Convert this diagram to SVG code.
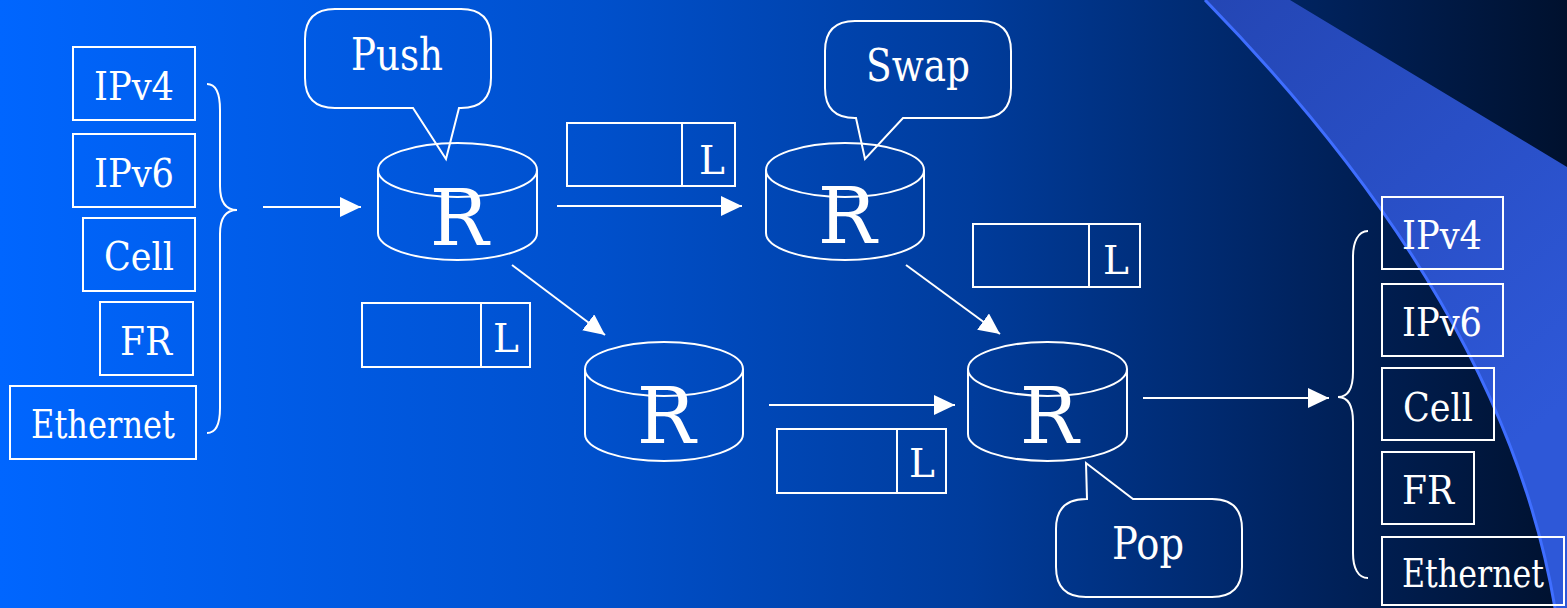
<svg xmlns="http://www.w3.org/2000/svg" width="1567" height="608" viewBox="0 0 1567 608">
<defs>
<linearGradient id="bg" x1="0" y1="0" x2="1567" y2="0" gradientUnits="userSpaceOnUse">
<stop offset="0" stop-color="#0066FF"/>
<stop offset="0.38" stop-color="#0050CC"/>
<stop offset="0.62" stop-color="#003C9C"/>
<stop offset="0.83" stop-color="#00235F"/>
<stop offset="1" stop-color="#00112E"/>
</linearGradient>
<linearGradient id="wedge" x1="1205" y1="0" x2="1567" y2="400" gradientUnits="userSpaceOnUse">
<stop offset="0" stop-color="#2446B4"/>
<stop offset="1" stop-color="#2E58D8"/>
</linearGradient>
<marker id="arr" viewBox="0 0 21 20" refX="21" refY="10" markerWidth="21" markerHeight="20" markerUnits="userSpaceOnUse" orient="auto">
<path d="M0,0 L21,10 L0,20 Z" fill="#FFFFFF"/>
</marker>
<style>
.ln{fill:none;stroke:#FFFFFF;stroke-width:2}
.box{fill:none;stroke:#FFFFFF;stroke-width:2}
.t{font-family:"DejaVu Serif","Liberation Serif","Times New Roman",serif;fill:#FFFFFF;text-anchor:middle}
.lbl{font-size:39px}
.co{font-size:44px}
.r{font-size:78px}
</style>
</defs>
<rect x="0" y="0" width="1567" height="608" fill="url(#bg)"/>
<path d="M1290,0 L1567,167 L1567,608 L1555,608 C1520,400 1400,200 1205,0 Z" fill="url(#wedge)"/>
<path d="M1205,0 C1400,200 1520,400 1555,608" fill="none" stroke="#3F6EFF" stroke-width="3"/>

<g id="left-stack">
<g id="l-ipv4"><rect class="box" x="73" y="47" width="122" height="73"/><text class="t lbl" x="134" y="100" textLength="80" lengthAdjust="spacingAndGlyphs">IPv4</text></g>
<g id="l-ipv6"><rect class="box" x="73" y="134" width="122" height="73"/><text class="t lbl" x="134" y="187" textLength="80" lengthAdjust="spacingAndGlyphs">IPv6</text></g>
<g id="l-cell"><rect class="box" x="83" y="218" width="112" height="73"/><text class="t lbl" x="139" y="270" textLength="70" lengthAdjust="spacingAndGlyphs">Cell</text></g>
<g id="l-fr"><rect class="box" x="100" y="302" width="93" height="73"/><text class="t lbl" x="146" y="355" textLength="52" lengthAdjust="spacingAndGlyphs">FR</text></g>
<g id="l-eth"><rect class="box" x="10" y="386" width="186" height="73"/><text class="t lbl" x="103" y="438" textLength="144" lengthAdjust="spacingAndGlyphs">Ethernet</text></g>
<path id="l-brace" class="ln" d="M207,84 C217,84 220,95 220,110 L220,186 C220,201 225,210 237,210 C225,210 220,219 220,234 L220,408 C220,423 217,433 207,433"/>
</g>

<g id="right-stack">
<g id="r-ipv4"><rect class="box" x="1382" y="197" width="121" height="72"/><text class="t lbl" x="1442" y="249" textLength="80" lengthAdjust="spacingAndGlyphs">IPv4</text></g>
<g id="r-ipv6"><rect class="box" x="1382" y="284" width="121" height="72"/><text class="t lbl" x="1442" y="336" textLength="80" lengthAdjust="spacingAndGlyphs">IPv6</text></g>
<g id="r-cell"><rect class="box" x="1382" y="368" width="112" height="72"/><text class="t lbl" x="1438" y="421" textLength="70" lengthAdjust="spacingAndGlyphs">Cell</text></g>
<g id="r-fr"><rect class="box" x="1382" y="452" width="92" height="72"/><text class="t lbl" x="1428" y="504" textLength="52" lengthAdjust="spacingAndGlyphs">FR</text></g>
<g id="r-eth"><rect class="box" x="1382" y="537" width="182" height="68"/><text class="t lbl" x="1473" y="587" textLength="142" lengthAdjust="spacingAndGlyphs">Ethernet</text></g>
<path id="r-brace" class="ln" d="M1368,231 C1358,231 1353,242 1353,257 L1353,372 C1353,388 1348,397 1338,397 C1348,397 1353,406 1353,422 L1353,553 C1353,568 1358,578 1368,578"/>
</g>

<g id="router1">
<path class="ln" d="M378,170 V233 A79.5,27 0 0 0 537,233 V170"/>
<ellipse class="ln" cx="457.5" cy="170" rx="79.5" ry="27"/>
<text class="t r" x="459" y="245">R</text>
</g>
<g id="router2">
<path class="ln" d="M766,170 V233 A79,27 0 0 0 924,233 V170"/>
<ellipse class="ln" cx="845" cy="170" rx="79" ry="27"/>
<text class="t r" x="847" y="243">R</text>
</g>
<g id="router3">
<path class="ln" d="M585,369 V434 A79,27 0 0 0 743,434 V369"/>
<ellipse class="ln" cx="664" cy="369" rx="79" ry="27"/>
<text class="t r" x="666" y="443">R</text>
</g>
<g id="router4">
<path class="ln" d="M968,369 V434 A79.5,27 0 0 0 1127,434 V369"/>
<ellipse class="ln" cx="1047.5" cy="369" rx="79.5" ry="27"/>
<text class="t r" x="1049" y="443">R</text>
</g>

<g id="push">
<path class="ln" d="M335,9 H461 Q491,9 491,39 V78 Q491,108 461,108 H459 L446,159 L413,108 H335 Q305,108 305,78 V39 Q305,9 335,9 Z"/>
<text class="t co" x="397" y="70" textLength="92" lengthAdjust="spacingAndGlyphs">Push</text>
</g>
<g id="swap">
<path class="ln" d="M855,21 H981 Q1011,21 1011,51 V88 Q1011,118 981,118 H903 L865,159 L856,118 H855 Q825,118 825,88 V51 Q825,21 855,21 Z"/>
<text class="t co" x="918" y="81" textLength="104" lengthAdjust="spacingAndGlyphs">Swap</text>
</g>
<g id="pop">
<path class="ln" d="M1086,499 H1087 L1086,463 L1133,499 H1212 Q1242,499 1242,529 V567 Q1242,597 1212,597 H1086 Q1056,597 1056,567 V529 Q1056,499 1086,499 Z"/>
<text class="t co" x="1148" y="559" textLength="72" lengthAdjust="spacingAndGlyphs">Pop</text>
</g>

<g id="label1"><rect class="box" x="567" y="123" width="168" height="63"/><line class="ln" x1="682" y1="123" x2="682" y2="186"/><text class="t lbl" x="712" y="174">L</text></g>
<g id="label2"><rect class="box" x="362" y="303" width="168" height="64"/><line class="ln" x1="481" y1="303" x2="481" y2="367"/><text class="t lbl" x="506" y="352">L</text></g>
<g id="label3"><rect class="box" x="973" y="224" width="167" height="63"/><line class="ln" x1="1089" y1="224" x2="1089" y2="287"/><text class="t lbl" x="1116" y="274">L</text></g>
<g id="label4"><rect class="box" x="777" y="429" width="169" height="64"/><line class="ln" x1="897" y1="429" x2="897" y2="493"/><text class="t lbl" x="922" y="477">L</text></g>

<g id="connectors">
<line class="ln" x1="263" y1="207" x2="361" y2="207" marker-end="url(#arr)"/>
<line class="ln" x1="557" y1="206" x2="742" y2="206" marker-end="url(#arr)"/>
<line class="ln" x1="512" y1="265" x2="605" y2="335" marker-end="url(#arr)"/>
<line class="ln" x1="906" y1="265" x2="1000" y2="334" marker-end="url(#arr)"/>
<line class="ln" x1="769" y1="405" x2="955" y2="405" marker-end="url(#arr)"/>
<line class="ln" x1="1143" y1="398" x2="1329" y2="398" marker-end="url(#arr)"/>
</g>
</svg>
